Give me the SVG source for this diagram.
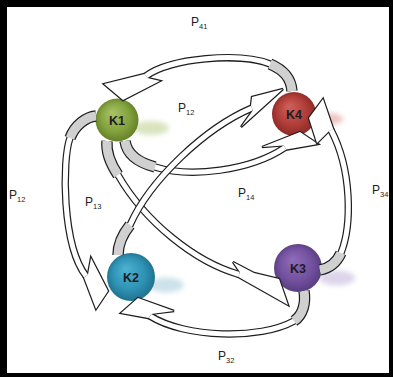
<svg xmlns="http://www.w3.org/2000/svg" width="393" height="377" viewBox="0 0 393 377">
  <defs>
    <radialGradient id="gK1" cx="0.5" cy="0.5" r="0.55" fx="0.38" fy="0.32">
      <stop offset="0" stop-color="#a8c46a"/>
      <stop offset="0.6" stop-color="#84a43e"/>
      <stop offset="1" stop-color="#5f7b25"/>
    </radialGradient>
    <radialGradient id="gK4" cx="0.5" cy="0.5" r="0.55" fx="0.38" fy="0.32">
      <stop offset="0" stop-color="#cf625b"/>
      <stop offset="0.6" stop-color="#b03d38"/>
      <stop offset="1" stop-color="#842624"/>
    </radialGradient>
    <radialGradient id="gK2" cx="0.5" cy="0.5" r="0.55" fx="0.38" fy="0.32">
      <stop offset="0" stop-color="#4fb2d2"/>
      <stop offset="0.6" stop-color="#2f93b5"/>
      <stop offset="1" stop-color="#1d6b87"/>
    </radialGradient>
    <radialGradient id="gK3" cx="0.5" cy="0.5" r="0.55" fx="0.38" fy="0.32">
      <stop offset="0" stop-color="#906db9"/>
      <stop offset="0.6" stop-color="#7452a0"/>
      <stop offset="1" stop-color="#54397b"/>
    </radialGradient>
    <filter id="soft" x="-50%" y="-80%" width="200%" height="260%">
      <feGaussianBlur stdDeviation="2.5"/>
    </filter>

    <!-- ribbon centre lines: full run and tail part -->
    <path id="pA" d="M 292 91 C 291 78 284 70 270 64 C 240 52 170 58 146 76"/>
    <path id="tA" d="M 292 91 C 291 78 284 70 270 64"/>
    <path id="pB" d="M 125 141 C 127 155 140 163 155 167 C 190 178 250 171 285 147.5"/>
    <path id="tB" d="M 125 141 C 127 155 140 163 155 167"/>
    <path id="pC" d="M 118 255 C 118 245 122 235 130 225 C 150 180 205 128 252 108"/>
    <path id="tC" d="M 118 255 C 118 245 122 235 130 225"/>
    <path id="pD" d="M 107 141 C 106 152 110 163 118 175 C 145 222 195 262 239 274.5"/>
    <path id="tD" d="M 107 141 C 106 152 110 163 118 175"/>
    <path id="pE" d="M 320 270 C 330 268 337 262 341 253 C 352 225 352 170 331 130"/>
    <path id="tE" d="M 320 270 C 330 268 337 262 341 253"/>
    <path id="pF" d="M 304 291 C 306 303 303 315 294 321 C 260 340 185 338 150 316"/>
    <path id="tF" d="M 304 291 C 306 303 303 315 294 321"/>
    <path id="pG" d="M 96 116 C 86 117 75 125 70 138 C 62 160 62 245 86 276"/>
    <path id="tG" d="M 96 116 C 86 117 75 125 70 138"/>

    <!-- arrow heads -->
    <polygon id="hA" points="144.5,74 104,84 123,100 160,81 147.5,78"/>
    <polygon id="hB" points="283.6,145.4 262,147 300,132 318,144 286.4,149.6"/>
    <polygon id="hC" points="251,105.7 252,97 283,89 241,127 253,110.3"/>
    <polygon id="hD" points="240,272.2 233,262 254,273 279,279 288,305 238,276.8"/>
    <polygon id="hE" points="333.2,128.9 323,99 309,118 317,143 328.8,131.2"/>
    <polygon id="hF" points="151.3,313.9 174,311 138,298 121,313 148.7,318.1"/>
    <polygon id="hG" points="84,277.5 96,309 108,291 91,258 88,274.5"/>
  </defs>

  <style>
    .ob{fill:none;stroke:#1e1e1e;stroke-width:7.4}
    .wb{fill:none;stroke:#ffffff;stroke-width:5}
    .ot{fill:none;stroke:#1e1e1e;stroke-width:11.4}
    .gt{fill:none;stroke:#d0d0d0;stroke-width:9}
    .hd{fill:#ffffff;stroke:#1e1e1e;stroke-width:2.4}
    .hf{fill:#ffffff;stroke:none}
    .kl{font-family:"Liberation Sans",Arial,sans-serif;font-weight:bold;font-size:12.5px;text-anchor:middle;fill:#1c1c24}
    .pl{font-family:"Liberation Sans",Arial,sans-serif;font-size:12px;fill:#222222}
    .sb{font-size:7.5px}
  </style>

  <!-- frame -->
  <rect x="0" y="0" width="393" height="377" fill="#000000"/>
  <rect x="7" y="7" width="382" height="366" fill="#ffffff"/>

  <!-- states -->
  <g id="K1">
    <ellipse cx="151" cy="128" rx="18" ry="7" fill="#d9e4bf" filter="url(#soft)"/>
    <circle cx="117" cy="120" r="21.5" fill="url(#gK1)"/>
    <text class="kl" x="117" y="125">K1</text>
  </g>
  <g id="K4">
    <ellipse cx="329" cy="119" rx="14" ry="6" fill="#f0c4c4" filter="url(#soft)"/>
    <circle cx="294" cy="114" r="22" fill="url(#gK4)"/>
    <text class="kl" x="294" y="119">K4</text>
  </g>
  <g id="K2">
    <ellipse cx="166" cy="285" rx="18" ry="7.5" fill="#cde2ea" filter="url(#soft)"/>
    <circle cx="131" cy="277" r="24" fill="url(#gK2)"/>
    <text class="kl" x="131" y="282">K2</text>
  </g>
  <g id="K3">
    <ellipse cx="337" cy="278" rx="18" ry="7.5" fill="#ddd5ea" filter="url(#soft)"/>
    <circle cx="298" cy="268" r="24" fill="url(#gK3)"/>
    <text class="kl" x="298" y="273">K3</text>
  </g>

  <!-- transitions -->
  <g id="connectors">
    <g id="arrow-K4-K1">
      <use href="#pA" class="ob"/><use href="#tA" class="ot"/><use href="#hA" class="hd"/>
      <use href="#pA" class="wb"/><use href="#tA" class="gt"/><use href="#hA" class="hf"/>
    </g>
    <g id="arrow-K1-K4">
      <use href="#pB" class="ob"/><use href="#tB" class="ot"/><use href="#hB" class="hd"/>
      <use href="#pB" class="wb"/><use href="#tB" class="gt"/><use href="#hB" class="hf"/>
    </g>
    <g id="arrow-K1-K3">
      <use href="#pD" class="ob"/><use href="#tD" class="ot"/><use href="#hD" class="hd"/>
      <use href="#pD" class="wb"/><use href="#tD" class="gt"/><use href="#hD" class="hf"/>
    </g>
    <g id="arrow-K2-K4">
      <use href="#pC" class="ob"/><use href="#tC" class="ot"/><use href="#hC" class="hd"/>
      <use href="#pC" class="wb"/><use href="#tC" class="gt"/><use href="#hC" class="hf"/>
    </g>
    <g id="arrow-K3-K4">
      <use href="#pE" class="ob"/><use href="#tE" class="ot"/><use href="#hE" class="hd"/>
      <use href="#pE" class="wb"/><use href="#tE" class="gt"/><use href="#hE" class="hf"/>
    </g>
    <g id="arrow-K3-K2">
      <use href="#pF" class="ob"/><use href="#tF" class="ot"/><use href="#hF" class="hd"/>
      <use href="#pF" class="wb"/><use href="#tF" class="gt"/><use href="#hF" class="hf"/>
    </g>
    <g id="arrow-K1-K2">
      <use href="#pG" class="ob"/><use href="#tG" class="ot"/><use href="#hG" class="hd"/>
      <use href="#pG" class="wb"/><use href="#tG" class="gt"/><use href="#hG" class="hf"/>
    </g>
  </g>

  <!-- transition probabilities -->
  <g id="labels">
    <text class="pl" x="191" y="26">P<tspan class="sb" dy="2.5">41</tspan></text>
    <text class="pl" x="178" y="112">P<tspan class="sb" dy="2.5">12</tspan></text>
    <text class="pl" x="9" y="199">P<tspan class="sb" dy="2.5">12</tspan></text>
    <text class="pl" x="85" y="206">P<tspan class="sb" dy="2.5">13</tspan></text>
    <text class="pl" x="238" y="197">P<tspan class="sb" dy="2.5">14</tspan></text>
    <text class="pl" x="372" y="194">P<tspan class="sb" dy="2.5">34</tspan></text>
    <text class="pl" x="218" y="360">P<tspan class="sb" dy="2.5">32</tspan></text>
  </g>
</svg>
